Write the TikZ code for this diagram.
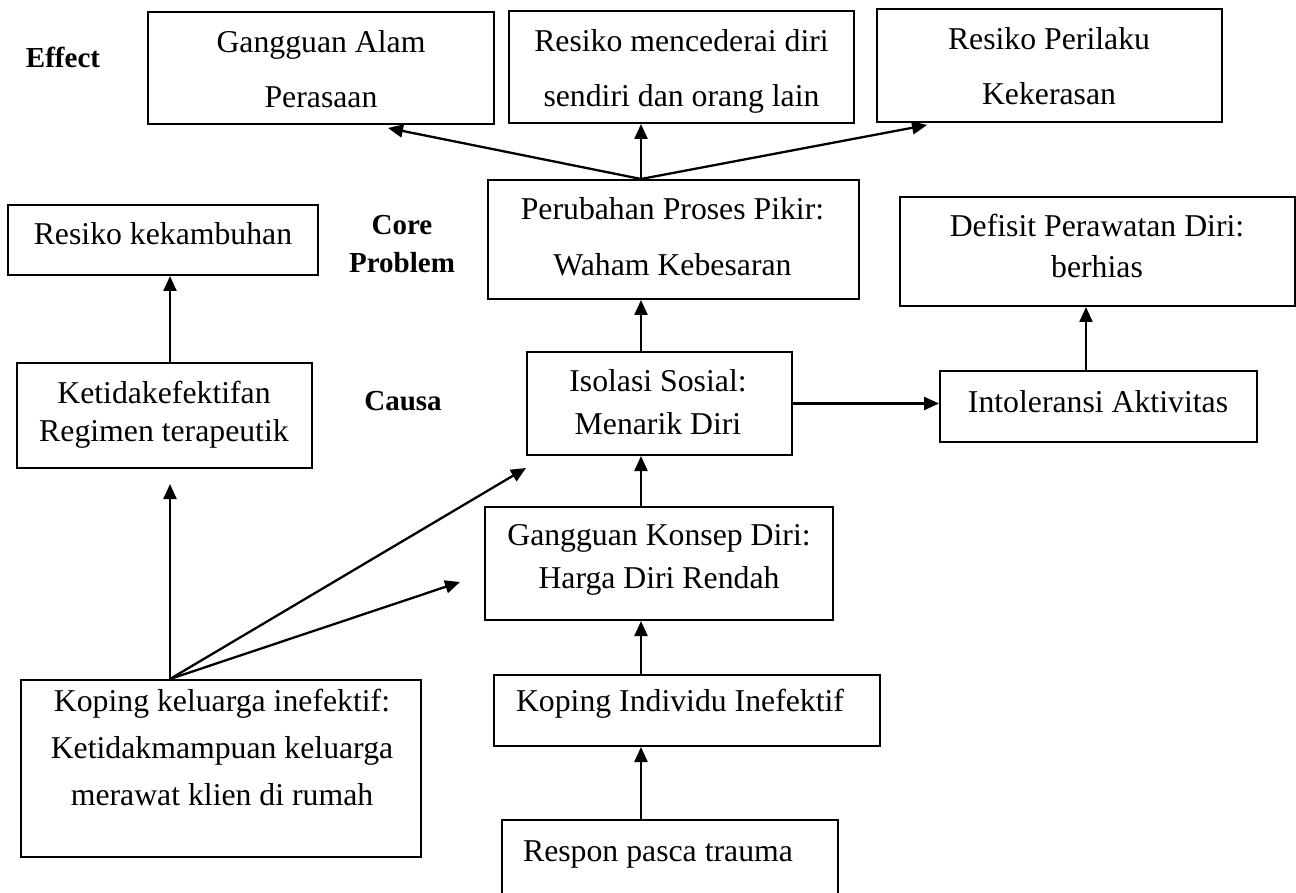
\documentclass[tikz,border=0pt]{standalone}
\usepackage{fontspec}
\setmainfont{Liberation Serif}
\usetikzlibrary{arrows.meta,fit}
\begin{document}
\begin{tikzpicture}[x=0.5pt,y=-0.5pt,
  box/.style={draw, line width=1pt, inner sep=0pt},
  txt/.style={align=center, inner sep=0pt, font=\fontsize{15.875}{#1}\selectfont},
  lbl/.style={align=center, inner sep=0pt, font=\bfseries\fontsize{14.5}{#1}\selectfont},
  arr/.style={line width=1.15pt, -{Triangle[length=7.5pt,width=6.5pt]}}]
\useasboundingbox (0,0) rectangle (1296,893);
% boxes
\node[box, fit={(148,12) (494,124)}] (A) {};
\node[box, fit={(509,11) (854,123)}] (B) {};
\node[box, fit={(877,9) (1222,122)}] (C) {};
\node[box, fit={(8,205) (318,275)}] (D) {};
\node[box, fit={(488,180) (859,299)}] (E) {};
\node[box, fit={(900,197) (1295,306)}] (F) {};
\node[box, fit={(17,363) (312,468)}] (G) {};
\node[box, fit={(527,352) (792,455)}] (H) {};
\node[box, fit={(940,371) (1257,442)}] (I) {};
\node[box, fit={(485,507) (833,620)}] (J) {};
\node[box, fit={(21,680) (421,857)}] (K) {};
\node[box, fit={(494,675) (880,746)}] (L) {};
\node[box, fit={(502,820) (838,960)}] (M) {};
% texts
\node[txt=27.4] (At) at (321,69) {Gangguan Alam\strut\\Perasaan\strut};
\node[txt=27.2] (Bt) at (681.5,68) {Resiko mencederai diri\strut\\sendiri dan orang lain\strut};
\node[txt=27.5] (Ct) at (1049,66.5) {Resiko Perilaku\strut\\Kekerasan\strut};
\node[txt=19] (Dt) at (163,237.4) {Resiko kekambuhan\strut};
\node[txt=28] (Et) at (672.5,236.8) {Perubahan Proses Pikir:\strut\\Waham Kebesaran\strut};
\node[txt=20.5] (Ft) at (1097,249) {Defisit Perawatan Diri:\strut\\berhias\strut};
\node[txt=19] (Gt) at (164,414.4) {Ketidakefektifan\strut\\Regimen terapeutik\strut};
\node[txt=21.15] (Ht) at (658,404.4) {Isolasi Sosial:\strut\\Menarik Diri\strut};
\node[txt=19] (It) at (1098,404.4) {Intoleransi Aktivitas\strut};
\node[txt=21.5] (Jt) at (659,558) {Gangguan Konsep Diri:\strut\\Harga Diri Rendah\strut};
\node[txt=23.5] (Kt) at (222,749.3) {Koping keluarga inefektif:\strut\\Ketidakmampuan keluarga\strut\\merawat klien di rumah\strut};
\node[txt=19] (Lt) at (680,704) {Koping Individu Inefektif\strut};
\node[txt=19] (Mt) at (658,854) {Respon pasca trauma\strut};
% side labels
\node[lbl=19] (eff) at (63,60.4) {Effect\strut};
\node[lbl=19] (core) at (402,246.4) {Core\strut\\Problem\strut};
\node[lbl=19] (cau) at (403,402.4) {Causa\strut};
% connector helpers
\coordinate (sp) at (641,0);
\coordinate (lsp) at (170,0);
\coordinate (rsp) at (1086,0);
\coordinate (tA) at (388,128);
\coordinate (tC) at (927,125);
\coordinate (tG) at (170,484);
\coordinate (tH) at (526,468);
\coordinate (tJ) at (460,582);
% connectors
\draw[arr] (E.north -| sp) -- (tA);
\draw[arr] (E.north -| sp) -- (B.south -| sp);
\draw[arr] (E.north -| sp) -- (tC);
\draw[arr] (H.north -| sp) -- (E.south -| sp);
\draw[arr] (J.north -| sp) -- (H.south -| sp);
\draw[arr] (L.north -| sp) -- (J.south -| sp);
\draw[arr] (M.north -| sp) -- (L.south -| sp);
\draw[arr] (H.east) -- (H.east -| I.west);
\draw[arr] (I.north -| rsp) -- (F.south -| rsp);
\draw[arr] (G.north -| lsp) -- (D.south -| lsp);
\draw[arr] (K.north -| lsp) -- (tG);
\draw[arr] (K.north -| lsp) -- (tH);
\draw[arr] (K.north -| lsp) -- (tJ);
\end{tikzpicture}
\end{document}
